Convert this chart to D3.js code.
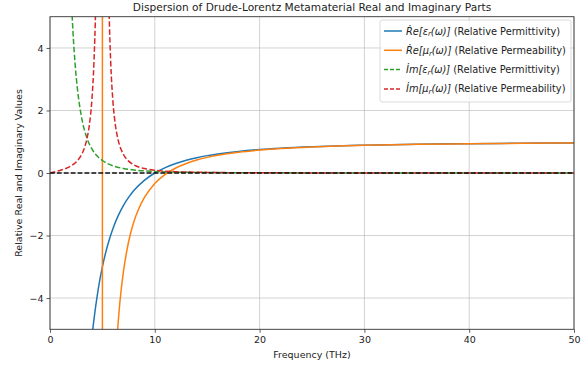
<!DOCTYPE html>
<html>
<head>
<meta charset="utf-8">
<script src="https://cdn.jsdelivr.net/npm/d3@7"></script>
<style>
  body { margin: 0; background: #fff; }
  svg { display: block; font-family: "DejaVu Sans", sans-serif; }
</style>
</head>
<body>
<div id="chart"></div>
<script>
// values: [frequency THz, value]
const reEps = [
    [3.9, -5.57], [4, -5.25], [4.25, -4.54], [4.5, -3.94], [4.75, -3.43], [5, -3.0],
    [5.5, -2.31], [6, -1.78], [6.5, -1.37], [7, -1.04], [7.5, -0.78], [8, -0.56],
    [9, -0.235], [10, 0], [11, 0.174], [12, 0.306], [13, 0.408], [14, 0.49],
    [15, 0.556], [16, 0.609], [18, 0.691], [20, 0.75], [22, 0.793], [25, 0.84],
    [28, 0.872], [30, 0.889], [35, 0.918], [40, 0.938], [45, 0.951], [50, 0.96]
];
const reMuJump = [[5, 5.6], [5, -5.6]];
const reMu = [
    [6.2, -6.44], [6.4, -5.27], [6.6, -4.39], [6.8, -3.71], [7, -3.17], [7.5, -2.2],
    [8, -1.56], [8.5, -1.12], [9, -0.79], [10, -0.333], [11, -0.042], [12, 0.16],
    [13, 0.306], [14, 0.415], [15, 0.5], [16, 0.567], [18, 0.666], [20, 0.733],
    [22, 0.782], [25, 0.833], [28, 0.868], [30, 0.886], [35, 0.917], [40, 0.937],
    [45, 0.95], [50, 0.96]
];
const imEps = [
    [1.9, 6.82], [2.0, 5.88], [2.2, 4.47], [2.4, 3.47], [2.6, 2.74], [2.8, 2.21],
    [3, 1.8], [3.5, 1.14], [4, 0.77], [4.5, 0.54], [5, 0.4], [6, 0.23], [7, 0.145],
    [8, 0.097], [9, 0.068], [10, 0.05], [12, 0.029], [15, 0.015], [20, 0.006],
    [30, 0.002], [50, 0.0004]
];
const imMu = [
    [0, 0], [0.5, 0.041], [1, 0.087], [1.5, 0.145], [2, 0.226], [2.5, 0.354],
    [3, 0.581], [3.25, 0.77], [3.5, 1.06], [3.75, 1.52], [4, 2.35], [4.2, 3.59],
    [4.35, 5.22], [4.5, 8.15], [4.75, 20.5], [5, 40], [5.25, 19.5], [5.5, 7.83],
    [5.65, 5.05], [5.8, 3.49], [6, 2.31], [6.25, 1.51], [6.5, 1.06], [7, 0.6],
    [7.5, 0.38], [8, 0.26], [9, 0.143], [10, 0.089], [12, 0.042], [15, 0.019],
    [20, 0.007], [30, 0.002], [50, 0.0004]
];
const xTicks = [0, 10, 20, 30, 40, 50];
const yTicks = [-4, -2, 0, 2, 4];

const series = [
    { key: 'reEps', parts: [reEps], color: '#1f77b4', dash: null,
      math: ['Ṙe[ε', 'r', '(ω)]'], text: ' (Relative Permittivity)' },
    { key: 'reMu', parts: [reMuJump, reMu], color: '#ff7f0e', dash: null,
      math: ['Ṙe[μ', 'r', '(ω)]'], text: ' (Relative Permeability)' },
    { key: 'imEps', parts: [imEps], color: '#2ca02c', dash: '5.5,2.4',
      math: ['İm[ε', 'r', '(ω)]'], text: ' (Relative Permittivity)' },
    { key: 'imMu', parts: [imMu], color: '#d62728', dash: '5.5,2.4',
      math: ['İm[μ', 'r', '(ω)]'], text: ' (Relative Permeability)' }
];

const width = 585, height = 367;
const m = { top: 16.7, right: 11, bottom: 37.7, left: 50 };

const svg = d3.select('#chart').append('svg')
    .attr('width', width)
    .attr('height', height);

const x = d3.scaleLinear().domain([0, 50]).range([m.left, width - m.right]);
const y = d3.scaleLinear().domain([-5, 5]).range([height - m.bottom, m.top]);

// grid
svg.append('g')
    .selectAll('line')
    .data(xTicks)
    .enter().append('line')
        .attr('x1', d => x(d)).attr('x2', d => x(d))
        .attr('y1', m.top).attr('y2', height - m.bottom)
        .attr('stroke', '#b0b0b0').attr('stroke-opacity', 0.7).attr('stroke-width', 0.8);
svg.append('g')
    .selectAll('line')
    .data(yTicks)
    .enter().append('line')
        .attr('x1', m.left).attr('x2', width - m.right)
        .attr('y1', d => y(d)).attr('y2', d => y(d))
        .attr('stroke', '#b0b0b0').attr('stroke-opacity', 0.7).attr('stroke-width', 0.8);

svg.append('clipPath').attr('id', 'plot-clip')
    .append('rect')
        .attr('x', m.left).attr('y', m.top)
        .attr('width', width - m.left - m.right)
        .attr('height', height - m.top - m.bottom);

const plot = svg.append('g').attr('clip-path', 'url(#plot-clip)');

const curve = d3.line()
    .x(d => x(d[0]))
    .y(d => y(d[1]))
    .curve(d3.curveMonotoneX);
const straight = d3.line()
    .x(d => x(d[0]))
    .y(d => y(d[1]));

series.forEach(s => {
    s.parts.forEach(p => {
        plot.append('path')
            .attr('d', p[0][0] === p[1][0] ? straight(p) : curve(p))
            .attr('fill', 'none')
            .attr('stroke', s.color)
            .attr('stroke-width', 1.5)
            .attr('stroke-dasharray', s.dash);
    });
});

// zero line
plot.append('path')
    .attr('d', straight([[0, 0], [50, 0]]))
    .attr('stroke', '#111')
    .attr('stroke-width', 1.3)
    .attr('stroke-dasharray', '4.8,2.1');

// axes
const xAxis = svg.append('g')
    .attr('transform', `translate(0,${height - m.bottom})`)
    .call(d3.axisBottom(x).tickValues(xTicks).tickSize(3.5).tickPadding(3));
const yAxis = svg.append('g')
    .attr('transform', `translate(${m.left},0)`)
    .call(d3.axisLeft(y).tickValues(yTicks).tickSize(3.5).tickPadding(3)
        .tickFormat(d => d < 0 ? '\u2212' + Math.abs(d) : d));
[xAxis, yAxis].forEach(a => {
    a.select('.domain').remove();
    a.selectAll('text').attr('font-size', 9.5).attr('fill', '#222').attr('font-family', 'DejaVu Sans');
    a.selectAll('line').attr('stroke', '#333').attr('stroke-width', 0.8);
});

svg.append('rect')
    .attr('x', m.left).attr('y', m.top)
    .attr('width', width - m.left - m.right)
    .attr('height', height - m.top - m.bottom)
    .attr('fill', 'none')
    .attr('stroke', '#333')
    .attr('stroke-width', 0.9);

// labels
svg.append('text')
    .attr('x', (m.left + width - m.right) / 2)
    .attr('y', 10.5)
    .attr('text-anchor', 'middle')
    .attr('font-size', 10.6)
    .attr('fill', '#222')
    .text('Dispersion of Drude-Lorentz Metamaterial Real and Imaginary Parts');

svg.append('text')
    .attr('x', (m.left + width - m.right) / 2)
    .attr('y', 357.5)
    .attr('text-anchor', 'middle')
    .attr('font-size', 9.5)
    .attr('fill', '#222')
    .text('Frequency (THz)');

svg.append('text')
    .attr('transform', `translate(22,${(m.top + height - m.bottom) / 2}) rotate(-90)`)
    .attr('text-anchor', 'middle')
    .attr('font-size', 9.5)
    .attr('fill', '#222')
    .text('Relative Real and Imaginary Values');

// legend
const lg = svg.append('g').attr('transform', 'translate(380,20)');
lg.append('rect')
    .attr('width', 191).attr('height', 82)
    .attr('rx', 2)
    .attr('fill', '#fff').attr('fill-opacity', 0.8)
    .attr('stroke', '#d0d0d0').attr('stroke-width', 0.8);

const rows = lg.selectAll('g.row')
    .data(series)
    .enter().append('g')
        .attr('class', 'row')
        .attr('transform', (d, i) => `translate(0,${11 + i * 19.3})`);

rows.append('line')
    .attr('x1', 4).attr('x2', 22)
    .attr('stroke', d => d.color)
    .attr('stroke-width', 1.5)
    .attr('stroke-dasharray', d => d.dash ? '4,2' : null);

const label = rows.append('text')
    .attr('x', 26)
    .attr('y', 3.5)
    .attr('font-size', 9.8)
    .attr('fill', '#222');
label.append('tspan').attr('font-style', 'italic').text(d => d.math[0]);
label.append('tspan').attr('font-style', 'italic').attr('font-size', 7).attr('dy', 1.9).text(d => d.math[1]);
label.append('tspan').attr('font-style', 'italic').attr('dy', -1.9).text(d => d.math[2]);
label.append('tspan').text(d => d.text);
</script>
</body>
</html>
